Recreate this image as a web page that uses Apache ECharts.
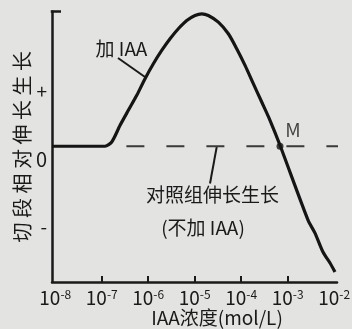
<!DOCTYPE html>
<html>
<head>
<meta charset="utf-8">
<script src="https://cdn.jsdelivr.net/npm/echarts@6/dist/echarts.min.js"></script>
<style>
html,body{margin:0;padding:0;background:#e3e3e1;}
#c{width:352px;height:329px;}
</style>
</head>
<body>
<div id="c"></div>
<script>
// x values are log10 of IAA concentration (mol/L); y is relative elongation (arbitrary units, 0 = control)
const curveLogConc = [-8.07,-6.93,-6.785,-6.606,-6.428,-6.247,-6.069,-5.890,-5.710,-5.531,-5.353,-5.172,-4.994,-4.850,-4.708,-4.492,-4.277,-4.097,-3.918,-3.740,-3.559,-3.381,-3.166,-2.563,-2.413,-2.241,-2.090,-1.983];
const curveGrowth   = [0,0,4.3,21,36,51,67.7,82.7,96,107.7,117.7,126,131,132.7,131,124.3,112.7,97.7,81,62.7,44.3,26,1,-74,-87,-106,-117,-126];
const controlLogConc = [-6.47,-1.84];
const controlGrowth  = [0,0];
const pointM = [-3.166, 0];
const xTickLabels = [-8,-7,-6,-5,-4,-3,-2];
const xTicks = [-7,-6,-5,-4,-3];
const yLabelValues = [55,-13.5,-81];
const yLabelTexts = ['+','0','-'];

const FONT = '"Noto Sans CJK SC","Noto Sans",sans-serif';
const INK = '#1a1a1a';

const chart = echarts.init(document.getElementById('c'));
chart.setOption({
  backgroundColor: '#e3e3e1',
  animation: false,
  grid: {left: 52, right: 15, top: 11.5, bottom: 47, containLabel: false, outerBoundsMode: 'none'},
  xAxis: {
    type: 'value', min: -8.07, max: -1.94,
    axisLine: {onZero: false, lineStyle: {color: INK, width: 2.5}},
    axisTick: {inside: true, length: 6, customValues: xTicks, lineStyle: {color: INK, width: 2}},
    splitLine: {show: false},
    axisLabel: {
      customValues: xTickLabels, margin: 6,
      formatter: v => '{b|10}{s|-' + Math.abs(Math.round(v)) + '}',
      rich: {
        b: {fontFamily: FONT, fontSize: 19, color: INK, lineHeight: 20},
        s: {fontFamily: FONT, fontSize: 12, color: INK, lineHeight: 10, verticalAlign: 'top'}
      }
    },
    name: 'IAA浓度(mol/L)', nameLocation: 'middle', nameGap: 26, nameMoveOverlap: false,
    nameTextStyle: {fontFamily: FONT, fontSize: 19, color: INK, padding: [0, 0, 0, 45]}
  },
  yAxis: {
    type: 'value', min: -136, max: 135,
    axisLine: {onZero: false, lineStyle: {color: INK, width: 2.5}},
    axisTick: {show: false},
    splitLine: {show: false},
    axisLabel: {
      customValues: yLabelValues, margin: 5,
      formatter: v => {
        const i = yLabelValues.indexOf(v);
        const t = yLabelTexts[i];
        return t === '0' ? '{z|0}' : '{p|' + t + '}';
      },
      rich: {
        z: {fontFamily: FONT, fontSize: 20, color: INK},
        p: {fontFamily: FONT, fontSize: 19, color: INK}
      }
    },
    name: '切 段 相 对 伸 长 生 长', nameLocation: 'middle', nameGap: 20, nameMoveOverlap: false,
    nameTextStyle: {fontFamily: FONT, fontSize: 20, color: INK}
  },
  series: [
    {
      type: 'line', name: '加 IAA',
      data: curveLogConc.map((x, i) => [x, curveGrowth[i]]),
      showSymbol: false, smooth: 0.25,
      lineStyle: {color: '#151515', width: 3.2}, z: 3
    },
    {
      type: 'line', name: '对照组',
      data: controlLogConc.map((x, i) => [x, controlGrowth[i]]),
      showSymbol: false, clip: false,
      lineStyle: {color: '#3a3a3a', width: 2, type: [18, 22]}, z: 2
    },
    {
      type: 'scatter', data: [pointM], symbolSize: 7,
      itemStyle: {color: '#151515'}, z: 4,
      label: {show: true, formatter: 'M', position: 'top', distance: 5, offset: [13, 2],
        fontFamily: FONT, fontSize: 19, color: INK}
    }
  ],
  graphic: [
    {type: 'line', shape: {x1: 50.75, y1: 11.5, x2: 61, y2: 11.5}, style: {stroke: INK, lineWidth: 2.5}},
    {type: 'line', shape: {x1: 118, y1: 58, x2: 145, y2: 77}, style: {stroke: INK, lineWidth: 2}},
    {type: 'line', shape: {x1: 216.7, y1: 147, x2: 210, y2: 183.5}, style: {stroke: INK, lineWidth: 2}},
    {type: 'text', x: 121.5, y: 49, style: {text: '加 IAA', font: '19px ' + FONT, fill: INK, align: 'center', verticalAlign: 'middle'}},
    {type: 'text', x: 212.5, y: 195, style: {text: '对照组伸长生长', font: '19px ' + FONT, fill: INK, align: 'center', verticalAlign: 'middle'}},
    {type: 'text', x: 203, y: 228, style: {text: '(不加 IAA)', font: '19px ' + FONT, fill: INK, align: 'center', verticalAlign: 'middle'}}
  ]
});
</script>
</body>
</html>
